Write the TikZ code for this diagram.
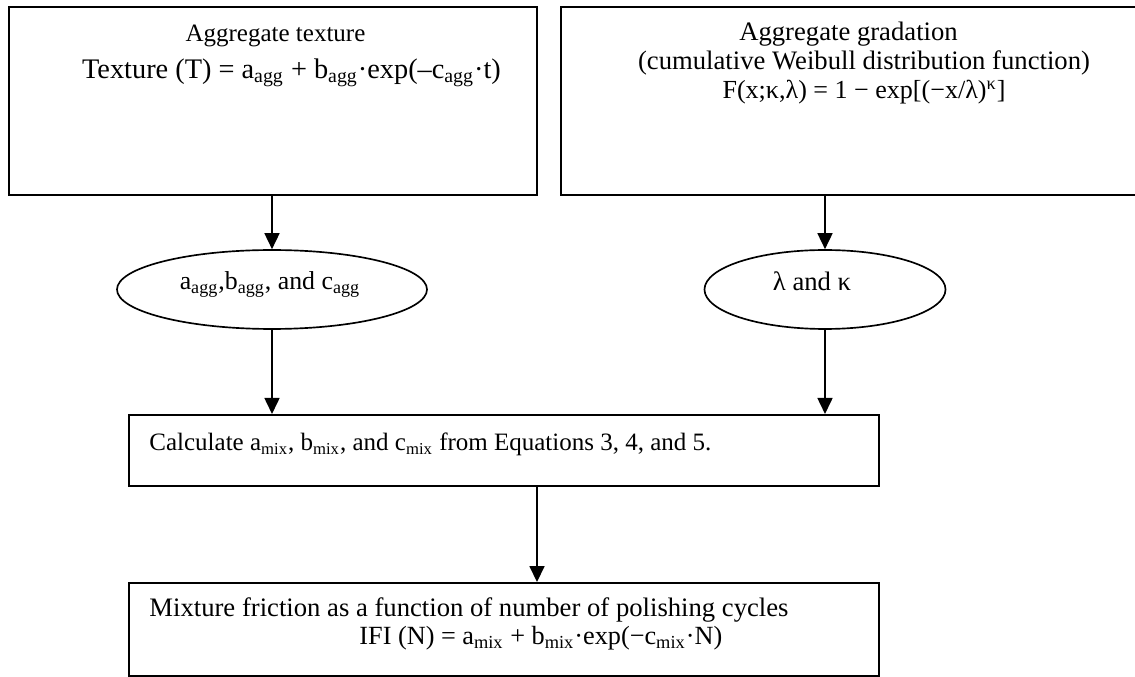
\documentclass[tikz,border=0pt]{standalone}
\usepackage{fontspec}
\setmainfont{Liberation Serif}
\usetikzlibrary{arrows.meta,shapes.geometric}
\tikzset{
  box/.style={draw, line width=0.95pt, rectangle, inner sep=0pt},
  oval/.style={draw, line width=0.8pt, ellipse, inner sep=0pt},
  txt/.style={inner sep=0pt, font=\fontsize{12pt}{14pt}\selectfont},
  midtxt/.style={inner sep=0pt, font=\fontsize{12.8pt}{15pt}\selectfont},
  bigtxt/.style={inner sep=0pt, font=\fontsize{13.6pt}{16pt}\selectfont},
  conn/.style={line width=0.85pt, -{Triangle[length=7.7pt,width=7.2pt]}}
}
\begin{document}
\begin{tikzpicture}[x=0.48pt,y=-0.48pt]
\useasboundingbox (0,0) rectangle (1135,677);
% boxes
\node[box, minimum width=253.6pt, minimum height=90.2pt] (A) at (272.9,101) {};
\node[box, minimum width=277.9pt, minimum height=90.2pt] (B) at (850.5,101) {};
\node[oval, minimum width=148.8pt, minimum height=37.9pt] (E1) at (272,289.5) {};
\node[oval, minimum width=115.7pt, minimum height=37.9pt] (E2) at (825,289.5) {};
\node[box, minimum width=360pt, minimum height=34.1pt] (C) at (504,450.5) {};
\node[box, minimum width=360pt, minimum height=44.6pt] (D) at (504,629.5) {};
% texts
\node[txt, anchor=base] (ta1) at (275.5,41.5) {Aggregate texture};
\node[bigtxt, anchor=base] (ta2) at (291.5,78.5) {Texture (T) = a\textsubscript{agg} + b\textsubscript{agg}·exp(–c\textsubscript{agg}·t)};
\node[midtxt, anchor=base] (tb1) at (848.5,40.5) {Aggregate gradation};
\node[midtxt, anchor=base] (tb2) at (864,70) {(cumulative Weibull distribution function)};
\node[inner sep=0pt, font=\fontsize{12.5pt}{15pt}\selectfont, anchor=base] (tb3) at (864,98.5) {F(x;κ,λ) = 1 − exp[(−x/λ)\textsuperscript{κ}]};
\node[inner sep=0pt, font=\fontsize{12.4pt}{15pt}\selectfont, anchor=base] (te1) at (270,289.5) {a\textsubscript{agg},b\textsubscript{agg}, and c\textsubscript{agg}};
\node[inner sep=0pt, font=\fontsize{12.8pt}{15pt}\selectfont, anchor=base] (te2) at (812,291) {λ and κ};
\node[txt, anchor=base west] (tc) at (149,451) {Calculate a\textsubscript{mix}, b\textsubscript{mix}, and c\textsubscript{mix} from Equations 3, 4, and 5.};
\node[midtxt, anchor=base west] (td1) at (149,616.5) {Mixture friction as a function of number of polishing cycles};
\node[inner sep=0pt, font=\fontsize{12.6pt}{15pt}\selectfont, anchor=base west] (td2) at (359,644.5) {IFI (N) = a\textsubscript{mix} + b\textsubscript{mix}·exp(−c\textsubscript{mix}·N)};
% connectors
\coordinate (m) at (537,500);
\draw[conn] (E1.north |- A.south) -- (E1.north);
\draw[conn] (E2.north |- B.south) -- (E2.north);
\draw[conn] (E1.south) -- (E1.south |- C.north);
\draw[conn] (E2.south) -- (E2.south |- C.north);
\draw[conn] (C.south -| m) -- (D.north -| m);
\end{tikzpicture}
\end{document}
